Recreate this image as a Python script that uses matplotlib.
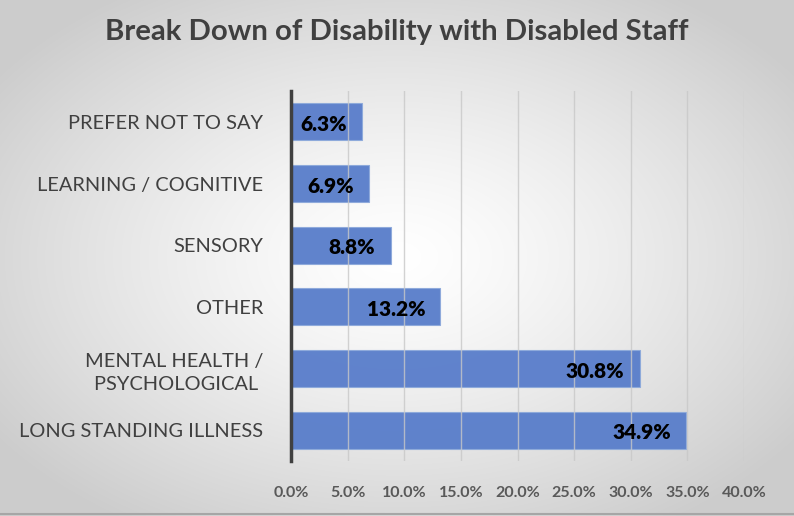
import numpy as np
import matplotlib
matplotlib.use("Agg")
import matplotlib.pyplot as plt
from matplotlib.ticker import FuncFormatter, MultipleLocator

categories = ["LONG STANDING ILLNESS", "MENTAL HEALTH /\nPSYCHOLOGICAL ", "OTHER", "SENSORY",
              "LEARNING / COGNITIVE", "PREFER NOT TO SAY"]
values = [34.9, 30.8, 13.2, 8.8, 6.9, 6.3]
title = "Break Down of Disability with Disabled Staff"

plt.rcParams['font.family'] = ['Lato', 'DejaVu Sans']

W, H = 794, 516
fig = plt.figure(figsize=(W/100, H/100), dpi=100)

# radial gradient background
bg = fig.add_axes([0, 0, 1, 1], zorder=-10)
yy, xx = np.mgrid[0:H, 0:W]
cx, cy = W*0.5, H*0.5
r = np.sqrt(((xx-cx)/(W*0.62))**2 + ((yy-cy)/(H*0.62))**2)
r = np.clip(r, 0, 1)
shade = 1.0 - 0.20*r**1.3
img = np.dstack([shade, shade, shade])
bg.imshow(img, aspect='auto', extent=[0, 1, 0, 1], origin='lower')
bg.set_axis_off()
bg.plot([0, 1], [2/H, 2/H], color='#a6a6a6', lw=1.5, transform=bg.transAxes)

ax = fig.add_axes([291/W, 1-461/H, (744-291)/W, (461-91)/H])
ax.patch.set_alpha(0)
y = np.arange(len(categories))
bars = ax.barh(y, values, height=0.6, color='#5b7fcb', edgecolor='#8eaadb', linewidth=0.8, zorder=2, alpha=0.97)
ax.set_xlim(0, 40)
ax.set_ylim(-0.5, len(categories)-0.5)
ax.xaxis.set_major_locator(MultipleLocator(5))
ax.xaxis.set_major_formatter(FuncFormatter(lambda v, p: f"{v:.1f}%"))
ax.grid(axis='x', color='#c8c8c8', lw=1.0, zorder=3, alpha=0.8)
ax.set_axisbelow(False)
ax.set_yticks(y)
ax.set_yticklabels(categories, fontsize=14.4, color='#404040', linespacing=1.45)
ax.tick_params(axis='y', length=0, pad=20)
ax.tick_params(axis='x', length=0, pad=18, labelsize=11.5, labelcolor='#595959')
for lab in ax.get_xticklabels():
    lab.set_fontweight('bold')
for s in ['top', 'right', 'bottom']:
    ax.spines[s].set_visible(False)
ax.spines['left'].set_color('#404040')
ax.spines['left'].set_linewidth(2.5)
ax.spines['left'].set_zorder(5)

for yi, v in zip(y, values):
    ax.annotate(f"{v:.1f}%", (v, yi), xytext=(-11, -2), textcoords='offset points',
                ha='right', va='center', fontsize=15, fontweight='heavy', color='black', zorder=6)

fig.text(0.5, 1-32/H, title, ha='center', va='center', fontsize=21.2, fontweight='bold', color='#404040')

fig.savefig("out.png", dpi=100)
